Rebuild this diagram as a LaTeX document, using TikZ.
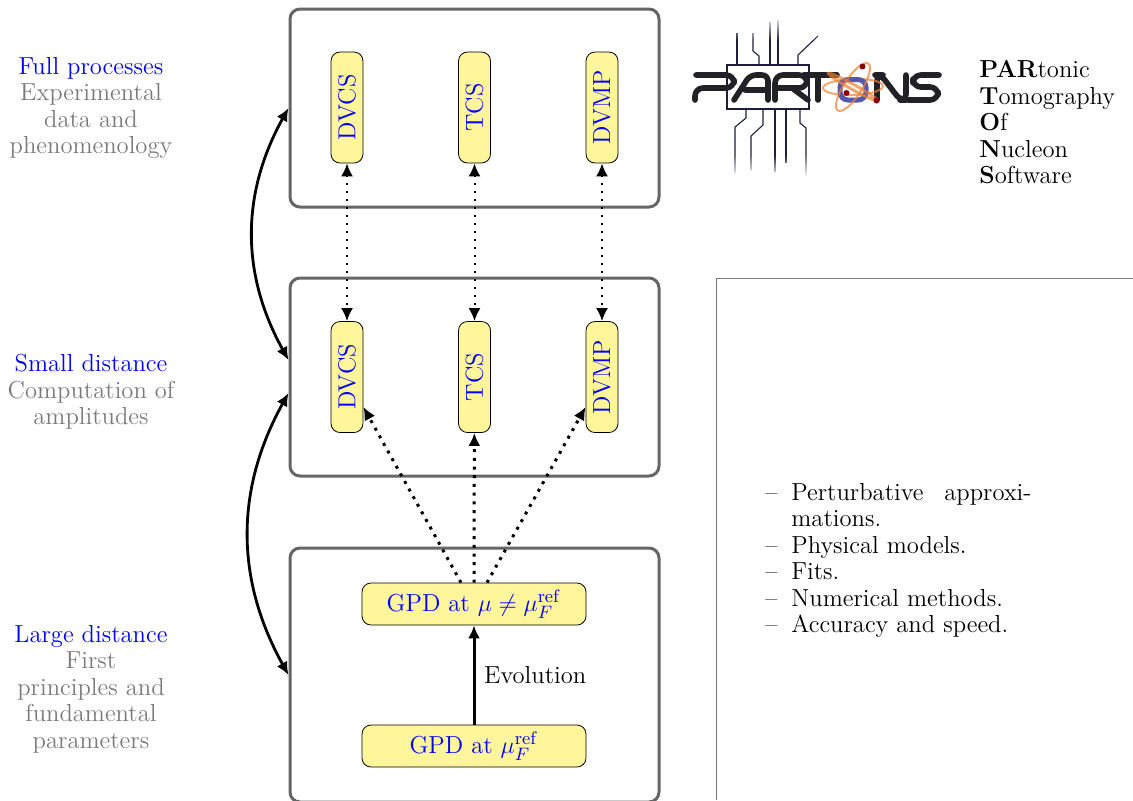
\documentclass[tikz,border=0pt]{standalone}
\usetikzlibrary{arrows,arrows.meta}
\usetikzlibrary{positioning,fadings}
\definecolor{boxgray}{HTML}{666666}
\definecolor{notefill}{HTML}{FFF59A}
\definecolor{labgray}{HTML}{7A7A7A}
\definecolor{logodark}{HTML}{222226}
\definecolor{logowire}{HTML}{1E1E3C}
\definecolor{logoblue}{HTML}{5558AE}
\definecolor{logoorange}{HTML}{EE7F30}
\newcommand{\dashitem}[1]{\hspace*{-13pt}\makebox[13pt][l]{--}#1\par}
\tikzset{every node/.style={font=\fontsize{12.3}{13.25}\selectfont},
bigbox/.style={draw=boxgray,line width=1.5pt,rounded corners=5pt,minimum width=184.5pt},
vertnode/.style={draw=black,fill=notefill,text=blue,rounded corners=4.5pt,rotate=90,minimum width=55.5pt,minimum height=16pt,inner sep=0pt},
horiznode/.style={draw=black,fill=notefill,text=blue,rounded corners=4.5pt,minimum width=112pt,minimum height=21pt,inner sep=0pt},
sidelabel/.style={align=center,text=labgray},
thindots/.style={<->,line width=1pt,dash pattern=on 1pt off 3pt},
thickdots/.style={->,line width=1.5pt,dash pattern=on 1.5pt off 2.85pt},
linkarrow/.style={<->,line width=1.4pt},
wiretop/.style={draw=logowire,line width=0.55pt},
letter/.style={draw=logodark,line width=2.8pt,line cap=round,line join=round,rounded corners=3pt},
orbit/.style={draw=logoorange,line width=1pt,opacity=0.7}
}

\begin{document}
\begin{tikzpicture}[>={Latex[length=6.5pt,width=6pt]},x=0.5pt,y=-0.5pt]
    \useasboundingbox (0,0) rectangle (1133,800);

    % side labels
    \node[sidelabel] (fulltxt) at (91,108) {\textcolor{blue}{Full processes}\\Experimental\\data and\\phenomenology};
    \node[sidelabel] (smalltxt) at (91,392) {\textcolor{blue}{Small distance}\\Computation of\\amplitudes};
    \node[sidelabel] (largetxt) at (91,689) {\textcolor{blue}{Large distance}\\First\\principles and\\fundamental\\parameters};

    % the three levels
    \node[bigbox,minimum height=99pt] (full) at (474.5,108) {};
    \node[bigbox,minimum height=99pt] (small) at (474.5,377) {};
    \node[bigbox,minimum height=127pt] (large) at (474.5,675) {};

    \node[vertnode] (dvcsa) at (347,107.5) {DVCS};
    \node[vertnode] (tcsa) at (474.5,107.5) {TCS};
    \node[vertnode] (dvmpa) at (602,107.5) {DVMP};
    \node[vertnode] (dvcsb) at (347,377) {DVCS};
    \node[vertnode] (tcsb) at (474.5,377) {TCS};
    \node[vertnode] (dvmpb) at (602,377) {DVMP};
    \node[horiznode] (gpdmu) at (474,604) {GPD at $\mu \neq \mu_F^{\mathrm{ref}}$};
    \node[horiznode] (gpdref) at (474,746) {GPD at $\mu_F^{\mathrm{ref}}$};

    \path[thindots] (dvcsa) edge (dvcsb)
        (tcsa) edge (tcsb)
        (dvmpa) edge (dvmpb);
    \draw[thickdots] ([xshift=-6.5pt]gpdmu.north) -- ([yshift=-15pt]dvcsb.south);
    \draw[thickdots] (gpdmu.north) -- (tcsb);
    \draw[thickdots] ([xshift=6.5pt]gpdmu.north) -- ([yshift=-15pt]dvmpb.north);
    \draw[->,line width=1.5pt] (gpdref) -- node[right,xshift=1pt] (evol) {Evolution} (gpdmu);

    \draw[linkarrow] (full.west) to[bend right=29] ([yshift=8.5pt]small.west);
    \draw[linkarrow] ([yshift=-8pt]small.west) to[bend right=29] (large.west);

    % logo
    \draw[wiretop] (727,65) rectangle (809,109);
    \draw[wiretop] (737,65) -- (737,33);
    \draw[wiretop] (759,65) -- (759,56) -- (753,51) -- (753,33);
    \draw[wiretop] (770,65) -- (770,22);
    \draw[wiretop] (778,65) -- (778,20);
    \draw[wiretop] (798,65) -- (798,55) -- (818,36);
    \draw[wiretop] (746,109) -- (746,118) -- (735,127) -- (735,173);
    \draw[wiretop] (763,109) -- (763,125) -- (751,136) -- (751,170);
    \draw[wiretop] (775,109) -- (775,172);
    \draw[wiretop] (786,109) -- (786,163);
    \draw[wiretop] (800,109) -- (800,123) -- (806,128) -- (806,175);
    \fill[white,path fading=south] (730,16) rectangle (822,40);
    \fill[white,path fading=north] (730,155) rectangle (812,178);
    \draw[letter,rounded corners=4pt] (695,100) -- (695,88) -- (734,88) -- (734,75) -- (696,75);
    \draw[letter] (734,100) -- (750,75) -- (768,75) -- (768,100) (745,90) -- (768,90);
    \draw[letter,rounded corners=4pt] (775,100) -- (775,75) -- (807,75) -- (807,88) -- (777,88);
    \draw[letter] (792,88) -- (808,100);
    \draw[letter] (804,75) -- (837,75) (818,75) -- (818,100);
    \draw[letter] (877,100) -- (877,75) -- (881,75) -- (900,100) -- (906,100) -- (906,75);
    \draw[letter,rounded corners=4pt] (939,75) -- (913,75) -- (913,87) -- (938,87) -- (938,100) -- (908,100);
    \draw[orbit] (853,87) ellipse [x radius=30,y radius=8,rotate=2];
    \draw[draw=logoblue,line width=2.5pt,rounded corners=4pt] (840,79.5) rectangle (866,100);
    \draw[orbit] (853,87) ellipse [x radius=28,y radius=9,rotate=57];
    \draw[orbit,line width=1.5pt] (853,87) ellipse [x radius=28,y radius=2.5,rotate=-29];
    \fill[red!55!black] (862.5,66.5) circle (3) (846.5,93) circle (3) (876.5,100.5) circle (3);

    \node[anchor=north west,align=left,inner sep=0pt] (acronym) at (979,60) {\textbf{PAR}tonic\\\textbf{T}omography\\\textbf{O}f\\\textbf{N}ucleon\\\textbf{S}oftware};

    % bottom right panel
    \coordinate (panelc) at (716,278);
    \draw[draw=labgray,line width=0.5pt] (panelc |- 0,800) -- (panelc) -- (1133,278);

    \node[anchor=north west,text width=133pt,align=justify,inner sep=0pt] (notes) at (765,483) {%
      \leftskip=13pt\parindent=0pt\parfillskip=0pt plus 1fil
      \dashitem{Perturbative approxi-\break mations.}
      \dashitem{Physical models.}
      \dashitem{Fits.}
      \dashitem{Numerical methods.}
      \dashitem{Accuracy and speed.}};
\end{tikzpicture}
\end{document}
